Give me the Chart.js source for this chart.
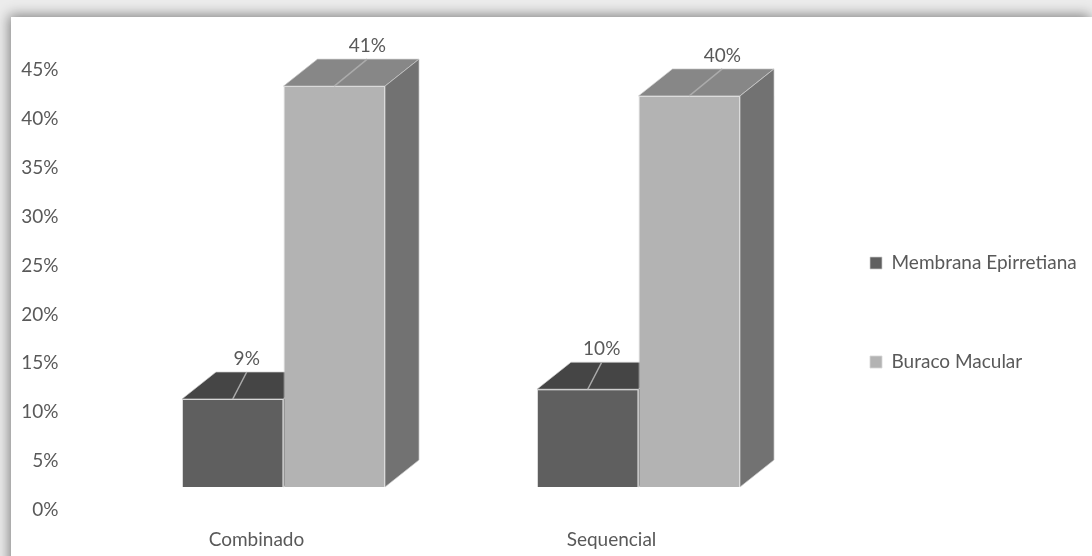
<!DOCTYPE html>
<html>
<head>
<meta charset="utf-8">
<script src="https://cdn.jsdelivr.net/npm/chart.js@4.4.1/dist/chart.umd.min.js"></script>
<style>
  html, body { margin: 0; padding: 0; overflow: hidden; background: #ececec; }
  body { width: 1092px; height: 556px; position: relative; }
  #frame {
    position: absolute; left: 11px; top: 17px; width: 1081px; height: 600px;
    background: #fff; box-shadow: -2px -2px 12px rgba(0,0,0,0.45);
  }
  #frame canvas { position: absolute; left: 0; top: 0; }
</style>
</head>
<body>
<div id="frame"><canvas id="chart" width="1081" height="591"></canvas></div>
<script>
const categories = ['Combinado', 'Sequencial'];
const seriesNames = ['Membrana Epirretiana', 'Buraco Macular'];
const membrana = [9, 10];
const buraco = [41, 40];
const yTicks = [0, 5, 10, 15, 20, 25, 30, 35, 40, 45];

// visual depth of the 3d boxes
const DX = 34, DY = 27;
const fronts = ['#5f5f5f', '#b3b3b3'];
const tops = ['#454545', '#878787'];
const sides = ['#3a3a3a', '#727272'];
const leaderDx = [14, 33];
const textColor = '#595959';
const fontFamily = 'Lato, "Open Sans", sans-serif';
const PLOT_LEFT = 95, PLOT_RIGHT = 805;
const LEGEND_PAD = 80;
const LEGEND_LEFT = 779;

const box3d = {
  id: 'box3d',
  afterInit(chart) {
    // keep plot width fixed whatever the legend text measures
    const legend = chart.legend;
    const fit = legend.fit;
    legend.fit = function () {
      fit.call(this);
      this.width = chart.width - PLOT_RIGHT;
    };
  },
  afterLayout(chart) {
    const legend = chart.legend;
    legend.left = LEGEND_LEFT;
    legend.right = chart.width + 100;
  },
  beforeDatasetsDraw(chart) {
    const ctx = chart.ctx;
    ctx.save();
    chart.data.datasets.forEach((ds, di) => {
      chart.getDatasetMeta(di).data.forEach(bar => {
        const { x, y, base, width } = bar.getProps(['x', 'y', 'base', 'width'], true);
        const l = x - width / 2, r = x + width / 2;
        ctx.strokeStyle = 'rgba(205,205,205,0.7)';
        ctx.lineWidth = 1;
        // top face
        ctx.fillStyle = tops[di];
        ctx.beginPath();
        ctx.moveTo(l, y); ctx.lineTo(l + DX, y - DY); ctx.lineTo(r + DX, y - DY); ctx.lineTo(r, y);
        ctx.closePath(); ctx.fill(); ctx.stroke();
        // side face
        ctx.fillStyle = sides[di];
        ctx.beginPath();
        ctx.moveTo(r, y); ctx.lineTo(r + DX, y - DY); ctx.lineTo(r + DX, base - DY); ctx.lineTo(r, base);
        ctx.closePath(); ctx.fill(); ctx.stroke();
      });
    });
    ctx.restore();
  },
  afterDatasetsDraw(chart) {
    const ctx = chart.ctx;
    ctx.save();
    ctx.font = '19px ' + fontFamily;
    ctx.textAlign = 'center';
    ctx.textBaseline = 'bottom';
    chart.data.datasets.forEach((ds, di) => {
      chart.getDatasetMeta(di).data.forEach((bar, i) => {
        const { x, y } = bar.getProps(['x', 'y'], true);
        const lx = x + leaderDx[di];
        ctx.strokeStyle = '#ababab';
        ctx.lineWidth = 1.5;
        ctx.beginPath();
        ctx.moveTo(x, y); ctx.lineTo(lx, y - DY);
        ctx.stroke();
        ctx.fillStyle = textColor;
        ctx.fillText(ds.data[i] + '%', lx, y - DY - 4);
      });
    });
    ctx.restore();
  }
};

new Chart(document.getElementById('chart'), {
  type: 'bar',
  data: {
    labels: categories,
    datasets: [
      { label: seriesNames[0], data: membrana, backgroundColor: fronts[0], borderColor: 'rgba(205,205,205,0.7)', borderWidth: 1 },
      { label: seriesNames[1], data: buraco, backgroundColor: fronts[1], borderColor: 'rgba(215,215,215,0.8)', borderWidth: 1 }
    ]
  },
  options: {
    responsive: false,
    animation: false,
    layout: { padding: 0 },
    categoryPercentage: 0.572,
    barPercentage: 1,
    plugins: {
      legend: {
        position: 'right',
        labels: {
          boxWidth: 12, boxHeight: 12, padding: LEGEND_PAD,
          color: textColor,
          font: { family: fontFamily, size: 19 }
        }
      },
      tooltip: { enabled: false }
    },
    scales: {
      x: {
        grid: { display: false, drawTicks: false },
        border: { display: false },
        ticks: { color: textColor, font: { family: fontFamily, size: 19 }, padding: 41, labelOffset: -27 },
        afterFit: s => { s.height = 121; }
      },
      y: {
        min: yTicks[0],
        max: yTicks[yTicks.length - 1],
        grid: { display: false, drawTicks: false },
        border: { display: false },
        afterBuildTicks: s => { s.ticks = yTicks.map(v => ({ value: v })); },
        ticks: {
          color: textColor, font: { family: fontFamily, size: 19 },
          padding: PLOT_LEFT - 47.5, labelOffset: 23,
          callback: v => v + '%'
        },
        afterFit: s => {
          s.width = PLOT_LEFT;
          s.paddingTop = 30;
          s.paddingBottom = 30;
        }
      }
    }
  },
  plugins: [box3d]
});
</script>
</body>
</html>
